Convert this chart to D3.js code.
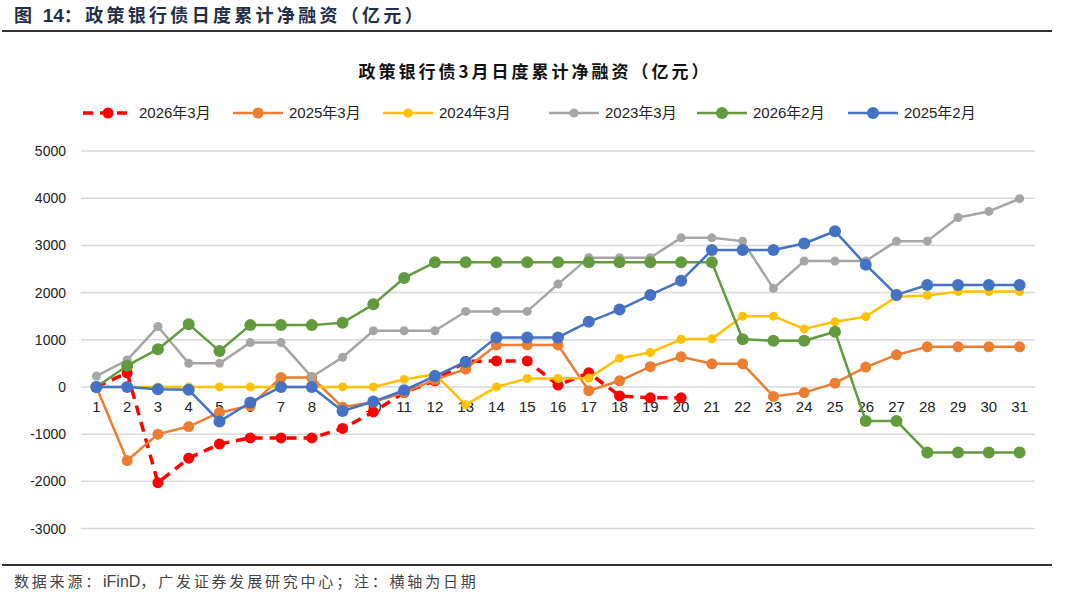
<!DOCTYPE html>
<html>
<head>
<meta charset="utf-8">
<script src="https://cdn.jsdelivr.net/npm/d3@7"></script>
<style>
  body { margin: 0; background: #fff; }
  svg { display: block; font-family: "Liberation Sans", "Noto Sans CJK SC", sans-serif; }
</style>
</head>
<body>
<div id="chart"></div>
<script>
// data
const days = d3.range(1, 32);
const yTicks = [-3000, -2000, -1000, 0, 1000, 2000, 3000, 4000, 5000];

const mar2026 = [0, 300, -2030, -1510, -1210, -1080, -1080, -1080, -880, -530,
	-120, 130, 540, 550, 550, 40, 300, -190, -230, -230];
const mar2025 = [0, -1560, -1000, -840, -540, -400, 200, 200, -430, -320,
	-120, 150, 380, 890, 890, 890, -80, 130, 430, 640,
	490, 490, -200, -120, 80, 420, 680, 850, 850, 850, 850];
const mar2024 = [0, 0, 0, 0, 0, 0, 0, 0, 0, 0,
	160, 270, -380, 0, 180, 180, 190, 610, 730, 1010,
	1020, 1500, 1500, 1230, 1380, 1490, 1910, 1940, 2020, 2020, 2020];
const mar2023 = [230, 570, 1280, 500, 500, 940, 940, 210, 630, 1190,
	1190, 1190, 1600, 1600, 1600, 2180, 2740, 2740, 2740, 3160,
	3160, 3090, 2090, 2670, 2670, 2670, 3090, 3090, 3590, 3720, 3990];
const feb2026 = [0, 450, 800, 1330, 760, 1310, 1310, 1310, 1360, 1750,
	2310, 2640, 2640, 2640, 2640, 2640, 2640, 2640, 2640, 2640,
	2640, 1010, 980, 980, 1170, -720, -720, -1390, -1390, -1390, -1390];
const feb2025 = [0, 0, -50, -60, -730, -330, 0, 0, -510, -310,
	-70, 230, 530, 1050, 1050, 1050, 1380, 1640, 1950, 2250,
	2900, 2900, 2900, 3040, 3300, 2590, 1950, 2160, 2160, 2160, 2160];

const seriesNames = ["2026年3月", "2025年3月", "2024年3月", "2023年3月", "2026年2月", "2025年2月"];
const seriesValues = [mar2026, mar2025, mar2024, mar2023, feb2026, feb2025];
const seriesColors = ["#FF0000", "#ED7D31", "#FFC000", "#A5A5A5", "#619B3E", "#4472C4"];
const markerR = [5.5, 5.5, 4.5, 4.5, 6, 6];

// General Variables
const width = 1080, height = 600;
const svg = d3.select("#chart").append("svg")
	.attr("width", width)
	.attr("height", height);

// header (number part in latin font, no spacing)
const header = svg.append("text")
	.attr("x", 14).attr("y", 22)
	.attr("fill", "#1f2f4a")
	.style("font-family", "'Noto Sans CJK SC', sans-serif")
	.style("font-weight", "bold")
	.style("font-size", "18px");
header.append("tspan").style("letter-spacing", "3.3px").text("图 ");
header.append("tspan").style("font-family", "'Liberation Sans', sans-serif").style("font-size", "19px").text("14");
header.append("tspan").style("letter-spacing", "3.3px").text("：政策银行债日度累计净融资（亿元）");

svg.append("line")
	.attr("x1", 2).attr("x2", 1052)
	.attr("y1", 31).attr("y2", 31)
	.attr("stroke", "#333").attr("stroke-width", 2);

// chart title
svg.append("text")
	.attr("x", 535).attr("y", 78)
	.attr("text-anchor", "middle")
	.style("font-family", "'Noto Sans CJK SC', sans-serif")
	.style("font-weight", "bold")
	.style("font-size", "17px")
	.style("letter-spacing", "3px")
	.attr("fill", "#111")
	.text("政策银行债3月日度累计净融资（亿元）");

// x position scale
const x = d3.scalePoint()
	.domain(days)
	.range([81, 1035])
	.padding(0.5);

// y position scale
const y = d3.scaleLinear()
	.domain([-3000, 5000])
	.range([528.5, 151]);

// gridlines
svg.append("g")
	.selectAll("line")
	.data(yTicks).enter()
	.append("line")
	.attr("x1", 81).attr("x2", 1035)
	.attr("y1", d => y(d)).attr("y2", d => y(d))
	.attr("stroke", "#d9d9d9")
	.attr("stroke-width", 1.5);

// Y Axis labels
svg.append("g")
	.selectAll("text")
	.data(yTicks).enter()
	.append("text")
	.attr("x", 66)
	.attr("y", d => y(d) + 5)
	.attr("text-anchor", "end")
	.style("font-size", "14px")
	.attr("fill", "#222")
	.text(d => d);

// X Axis labels (sit just below zero line)
svg.append("g")
	.selectAll("text")
	.data(days).enter()
	.append("text")
	.attr("x", d => x(d))
	.attr("y", y(0) + 25)
	.attr("text-anchor", "middle")
	.style("font-size", "15px")
	.attr("fill", "#222")
	.text(d => d);

// lines + markers
const line = d3.line()
	.x((d, i) => x(days[i]))
	.y(d => y(d));

seriesValues.forEach(function (vals, k) {
	const g = svg.append("g");
	g.append("path")
		.datum(vals)
		.attr("d", line)
		.attr("fill", "none")
		.attr("stroke", seriesColors[k])
		.attr("stroke-width", k == 0 ? 3.5 : 2.5)
		.attr("stroke-dasharray", k == 0 ? "10,7" : null)
		.attr("stroke-linejoin", "round");
	g.selectAll("circle")
		.data(vals).enter()
		.append("circle")
		.attr("cx", (d, i) => x(days[i]))
		.attr("cy", d => y(d))
		.attr("r", markerR[k])
		.attr("fill", seriesColors[k]);
});

// legend
const legendX = [83, 233, 383, 549, 697, 848];
const legend = svg.append("g");
seriesNames.forEach(function (name, k) {
	const lx = legendX[k], ly = 113;
	legend.append("line")
		.attr("x1", lx).attr("x2", lx + 50)
		.attr("y1", ly).attr("y2", ly)
		.attr("stroke", seriesColors[k])
		.attr("stroke-width", k == 0 ? 3.5 : 2.5)
		.attr("stroke-dasharray", k == 0 ? "10,7" : null);
	legend.append("circle")
		.attr("cx", lx + 25).attr("cy", ly)
		.attr("r", markerR[k])
		.attr("fill", seriesColors[k]);
	legend.append("text")
		.attr("x", lx + 56).attr("y", ly + 5)
		.style("font-size", "15px")
		.attr("fill", "#222")
		.text(name);
});

// footer
svg.append("line")
	.attr("x1", 2).attr("x2", 1052)
	.attr("y1", 565).attr("y2", 565)
	.attr("stroke", "#333").attr("stroke-width", 2);

const foot = svg.append("text")
	.attr("x", 14).attr("y", 587)
	.attr("fill", "#444")
	.style("font-family", "'Noto Sans CJK SC', sans-serif")
	.style("font-size", "15px");
foot.append("tspan").style("letter-spacing", "2.8px").text("数据来源：");
foot.append("tspan").style("font-family", "'Liberation Sans', sans-serif").style("font-size", "16px").text("iFinD");
foot.append("tspan").style("letter-spacing", "2.8px").text("，广发证券发展研究中心；注：横轴为日期");
</script>
</body>
</html>
